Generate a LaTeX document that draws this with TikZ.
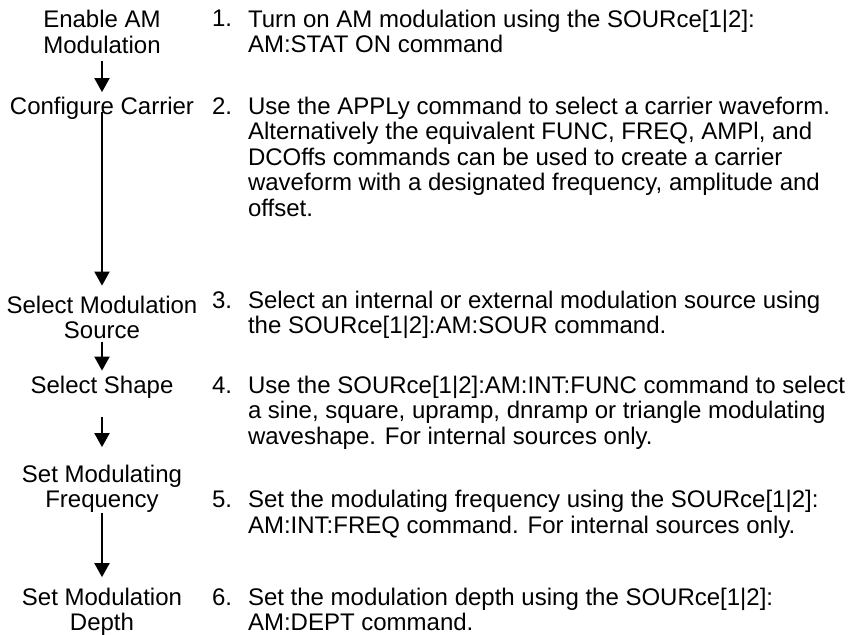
\documentclass[tikz,border=0pt]{standalone}
\usepackage{fontspec}
\setmainfont{Liberation Sans}
\usetikzlibrary{arrows.meta}
\begin{document}
\begin{tikzpicture}[x=1pt,y=-1pt,
  every node/.style={inner sep=0pt,outer sep=0pt,font=\fontsize{24}{25.5}\selectfont},
  stepname/.style={anchor=base,align=center},
  numlabel/.style={anchor=base west},
  desc/.style={anchor=base west,align=left},
  arr/.style={line width=2pt,-{Triangle[width=15pt,length=14pt]}}]
\useasboundingbox (0,0) rectangle (850,634);
% left column (positions are the baselines of the last lines)
\node[stepname] (L1) at (102,53.5) {Enable AM\\Modulation};
\node[stepname] (L2) at (102,114) {Configure Carrier};
\node[stepname] (L3) at (102,338.5) {Select Modulation\\Source};
\node[stepname] (L4) at (102,393) {Select Shape};
\node[stepname] (L5) at (102,507.5) {Set Modulating\\Frequency};
\node[stepname] (L6) at (102,630.5) {Set Modulation\\Depth};
\draw[arr] ([yshift=-7pt]L1.south) -- ([yshift=4.5pt]L2.north);
\draw[arr] ([yshift=7pt]L2.south) -- ([yshift=10pt]L3.north);
\draw[arr] ([yshift=-3pt]L3.south) -- ([yshift=5pt]L4.north);
\draw[arr] ([yshift=-19pt]L4.south) -- ([yshift=17.5pt]L5.north);
\draw[arr] ([yshift=-0.5pt]L5.south) -- ([yshift=10.5pt]L6.north);
% right column
\node[numlabel] (N1) at (212,27) {1.};
\node[desc] (R1) at (248,52.5) {Turn on AM modulation using the SOURce[1|2]:\\AM:STAT ON command};
\node[numlabel] (N2) at (212,114) {2.};
\node[desc] (R2) at (248,216) {Use the APPLy command to select a carrier waveform.\\Alternatively the equivalent FUNC, FREQ, AMPl, and\\DCOffs commands can be used to create a carrier\\waveform with a designated frequency, amplitude and\\offset.};
\node[numlabel] (N3) at (212,308) {3.};
\node[desc] (R3) at (248,333.5) {Select an internal or external modulation source using\\the SOURce[1|2]:AM:SOUR command.};
\node[numlabel] (N4) at (212,393) {4.};
\node[desc] (R4) at (248,444) {Use the SOURce[1|2]:AM:INT:FUNC command to select\\a sine, square, upramp, dnramp or triangle modulating\\waveshape. For internal sources only.};
\node[numlabel] (N5) at (212,507.5) {5.};
\node[desc] (R5) at (248,533) {Set the modulating frequency using the SOURce[1|2]:\\AM:INT:FREQ command. For internal sources only.};
\node[numlabel] (N6) at (212,605) {6.};
\node[desc] (R6) at (248,630.5) {Set the modulation depth using the SOURce[1|2]:\\AM:DEPT command.};
\end{tikzpicture}
\end{document}
